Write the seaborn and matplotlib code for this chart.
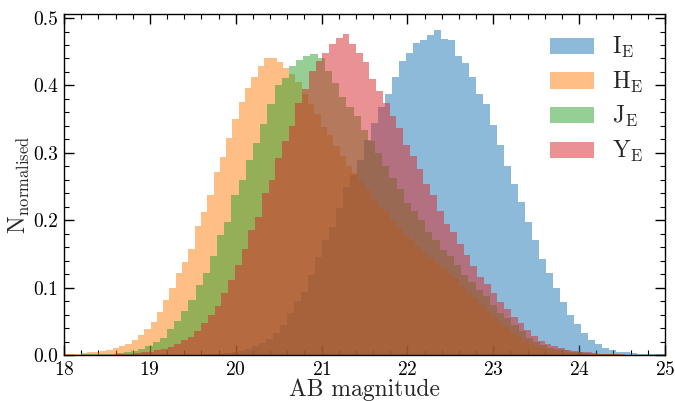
import numpy as np
import pandas as pd
import matplotlib
matplotlib.use("Agg")
import matplotlib.pyplot as plt
from matplotlib.patches import Patch
from matplotlib.ticker import MultipleLocator, FormatStrFormatter
import seaborn as sns

# ---------------- data (normalised histogram heights) ----------
labels = [r"$\mathrm{I_E}$", r"$\mathrm{H_E}$", r"$\mathrm{J_E}$", r"$\mathrm{Y_E}$"]

# I_E
i_start, i_width = 19.70, 0.0815
i_heights = [0.001, 0.002, 0.003, 0.004, 0.006, 0.009, 0.013, 0.018, 0.024, 0.032,
             0.045, 0.062, 0.080, 0.094, 0.119, 0.146, 0.171, 0.190, 0.218, 0.249,
             0.267, 0.290, 0.319, 0.345, 0.368, 0.388, 0.413, 0.436, 0.448, 0.463,
             0.467, 0.475, 0.482, 0.469, 0.467, 0.443, 0.433, 0.413, 0.388, 0.373,
             0.342, 0.311, 0.281, 0.253, 0.227, 0.197, 0.171, 0.143, 0.121, 0.100,
             0.079, 0.059, 0.046, 0.033, 0.023, 0.016, 0.010, 0.007, 0.005, 0.004,
             0.003, 0.002, 0.002, 0.001, 0.001]

# H_E
h_start, h_width = 17.98, 0.0734
h_heights = [0.001, 0.002, 0.002, 0.003, 0.004, 0.004, 0.006, 0.008, 0.010, 0.014,
             0.017, 0.023, 0.030, 0.039, 0.049, 0.064, 0.081, 0.100, 0.121, 0.138,
             0.158, 0.192, 0.212, 0.238, 0.271, 0.294, 0.322, 0.350, 0.375, 0.396,
             0.412, 0.429, 0.441, 0.440, 0.435, 0.426, 0.417, 0.405, 0.388, 0.373,
             0.357, 0.339, 0.327, 0.310, 0.295, 0.280, 0.270, 0.258, 0.245, 0.231,
             0.219, 0.213, 0.201, 0.190, 0.178, 0.171, 0.162, 0.151, 0.144, 0.136,
             0.129, 0.120, 0.114, 0.103, 0.092, 0.084, 0.074, 0.064, 0.057, 0.048,
             0.041, 0.033, 0.027, 0.021, 0.017, 0.012, 0.010, 0.008, 0.006, 0.005,
             0.004, 0.003, 0.003, 0.002, 0.002, 0.001, 0.001, 0.001]

# J_E
j_start, j_width = 18.028, 0.0836
j_heights = [0.0005, 0.0005, 0.001, 0.001, 0.001, 0.002, 0.002, 0.003, 0.004, 0.006,
             0.009, 0.013, 0.020, 0.025, 0.038, 0.050, 0.065, 0.082, 0.104, 0.121,
             0.147, 0.178, 0.198, 0.237, 0.259, 0.289, 0.314, 0.343, 0.373, 0.400,
             0.411, 0.429, 0.437, 0.443, 0.446, 0.440, 0.421, 0.404, 0.383, 0.368,
             0.354, 0.334, 0.318, 0.300, 0.280, 0.262, 0.247, 0.226, 0.213, 0.200,
             0.183, 0.171, 0.156, 0.147, 0.134, 0.119, 0.109, 0.097, 0.087, 0.074,
             0.062, 0.055, 0.045, 0.035, 0.025, 0.020, 0.015, 0.011, 0.009, 0.007,
             0.005, 0.004, 0.003, 0.002, 0.002, 0.001, 0.001]

# Y_E
y_start, y_width = 18.579, 0.0784
y_heights = [0.001, 0.002, 0.002, 0.003, 0.004, 0.005, 0.007, 0.009, 0.012, 0.017,
             0.022, 0.027, 0.035, 0.047, 0.059, 0.073, 0.092, 0.112, 0.134,
             0.158, 0.186, 0.205, 0.240, 0.260, 0.292, 0.317, 0.340, 0.374, 0.395,
             0.422, 0.436, 0.448, 0.462, 0.470, 0.476, 0.461, 0.448, 0.435, 0.410,
             0.391, 0.374, 0.354, 0.337, 0.312, 0.295, 0.276, 0.254, 0.238, 0.214,
             0.195, 0.182, 0.165, 0.149, 0.132, 0.116, 0.105, 0.092, 0.079, 0.068,
             0.057, 0.047, 0.037, 0.028, 0.021, 0.017, 0.013, 0.010, 0.008, 0.006,
             0.005, 0.004, 0.003, 0.002, 0.002, 0.001, 0.001]

series = [(i_start, i_width, i_heights),
          (h_start, h_width, h_heights),
          (j_start, j_width, j_heights),
          (y_start, y_width, y_heights)]

# ---------------- style ----------------
sns.set_style("ticks")
plt.rcParams["font.family"] = ["serif"]
plt.rcParams["font.serif"] = ["cmr10", "DejaVu Serif"]
plt.rcParams["mathtext.fontset"] = "cm"
plt.rcParams["axes.formatter.use_mathtext"] = True
plt.rcParams["axes.unicode_minus"] = False

colors = sns.color_palette("tab10", 4)

fig = plt.figure(figsize=(6.75, 4.01), dpi=100)
ax = fig.add_axes([64 / 675, 46 / 401, 601 / 675, 341 / 401])

for (start, width, heights), col in zip(series, colors):
    n = len(heights)
    edges = start + width * np.arange(n + 1)
    centers = (edges[:-1] + edges[1:]) / 2
    df = pd.DataFrame({"mag": centers, "w": heights})
    sns.histplot(data=df, x="mag", weights="w", bins=list(edges), element="step",
                 fill=True, alpha=0.5, linewidth=0, color=col, ax=ax, stat="count")

ax.set_xlim(18, 25)
ax.set_ylim(0, 0.506)
ax.xaxis.set_major_locator(MultipleLocator(1))
ax.xaxis.set_minor_locator(MultipleLocator(0.2))
ax.yaxis.set_major_locator(MultipleLocator(0.1))
ax.yaxis.set_minor_locator(MultipleLocator(0.02))
ax.yaxis.set_major_formatter(FormatStrFormatter("%.1f"))
ax.tick_params(which="both", direction="in", top=True, right=True, colors="black")
ax.tick_params(which="major", length=7, width=1, labelsize=14, pad=4)
ax.tick_params(which="minor", length=3.5, width=0.8)
for s in ax.spines.values():
    s.set_color("black")
    s.set_linewidth(1)

ax.set_xlabel("AB magnitude", fontsize=17, labelpad=0)
ax.set_ylabel(r"$\mathrm{N_{normalised}}$", fontsize=17, labelpad=1)

handles = [Patch(facecolor=c, alpha=0.5, edgecolor="none") for c in colors]
ax.legend(handles, labels, loc="upper right", frameon=False, fontsize=17,
          handlelength=1.9, handleheight=0.68, labelspacing=0.4,
          borderaxespad=0.5, handletextpad=0.75)

fig.savefig("out.png", dpi=100)
